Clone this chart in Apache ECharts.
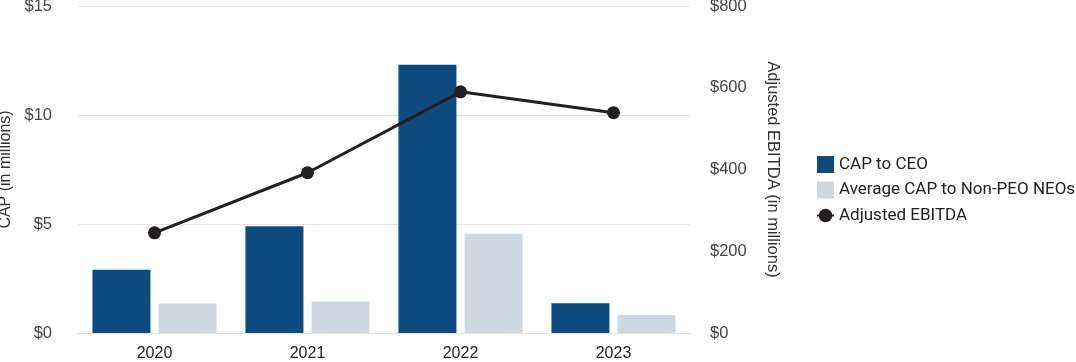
<!DOCTYPE html>
<html><head><meta charset="utf-8">
<script src="https://cdn.jsdelivr.net/npm/echarts@6/dist/echarts.min.js"></script>
<style>html,body{margin:0;padding:0;background:#fff}#c{width:1076px;height:362px}</style>
</head><body><div id="c"></div>
<script>
var categories = ['2020', '2021', '2022', '2023'];
var capCEO = [2.9, 4.9, 12.3, 1.37];
var capNEO = [1.35, 1.45, 4.55, 0.83];
var ebitda = [245, 392, 590, 539];
var leftTicks = [0, 15, 5];
var rightTicks = [0, 800, 200];

var font = 'Liberation Sans';
var chart = echarts.init(document.getElementById('c'));
chart.setOption({
  animation: false,
  grid: {left: 78, right: 386, top: 6, bottom: 29, containLabel: false, outerBoundsMode: 'none'},
  legend: {
    orient: 'vertical', left: 811, top: 151, itemWidth: 17, itemHeight: 17, itemGap: 8.5,
    textStyle: {fontFamily: 'Roboto', fontSize: 17, color: '#222'},
    data: [{name: 'CAP to CEO', icon: 'rect'}, {name: 'Average CAP to Non-PEO NEOs', icon: 'rect'}, 'Adjusted EBITDA']
  },
  xAxis: {
    type: 'category', data: categories,
    axisLine: {lineStyle: {color: '#e2e2e2', width: 1}},
    axisTick: {show: false},
    axisLabel: {fontFamily: font, fontSize: 16, color: '#222', margin: 13}
  },
  yAxis: [{
    type: 'value', min: leftTicks[0], max: leftTicks[1], interval: leftTicks[2],
    name: 'CAP (in millions)', nameLocation: 'middle', nameRotate: 90, nameGap: 58,
    nameTextStyle: {fontFamily: font, fontSize: 16, color: '#333'},
    axisLine: {show: false}, axisTick: {show: false},
    axisLabel: {formatter: '${value}', fontFamily: font, fontSize: 16.5, color: '#444', margin: 26},
    splitLine: {lineStyle: {color: '#e2e2e2', width: 1}}
  }, {
    type: 'value', min: rightTicks[0], max: rightTicks[1], interval: rightTicks[2],
    name: 'Adjusted EBITDA (in millions)', nameLocation: 'middle', nameRotate: -90, nameGap: 74,
    nameTextStyle: {fontFamily: font, fontSize: 16.5, color: '#333'},
    axisLine: {show: false}, axisTick: {show: false},
    axisLabel: {formatter: '${value}', fontFamily: font, fontSize: 16.5, color: '#444', margin: 20},
    splitLine: {show: false}
  }],
  series: [{
    name: 'CAP to CEO', type: 'bar', data: capCEO, barWidth: 58, barGap: '14%',
    itemStyle: {color: '#0d4a7e'}
  }, {
    name: 'Average CAP to Non-PEO NEOs', type: 'bar', data: capNEO, barWidth: 58,
    itemStyle: {color: '#cdd8e2'}
  }, {
    name: 'Adjusted EBITDA', type: 'line', yAxisIndex: 1, data: ebitda,
    symbol: 'circle', symbolSize: 13,
    lineStyle: {color: '#231f20', width: 3}, itemStyle: {color: '#231f20'}
  }]
});
</script></body></html>
